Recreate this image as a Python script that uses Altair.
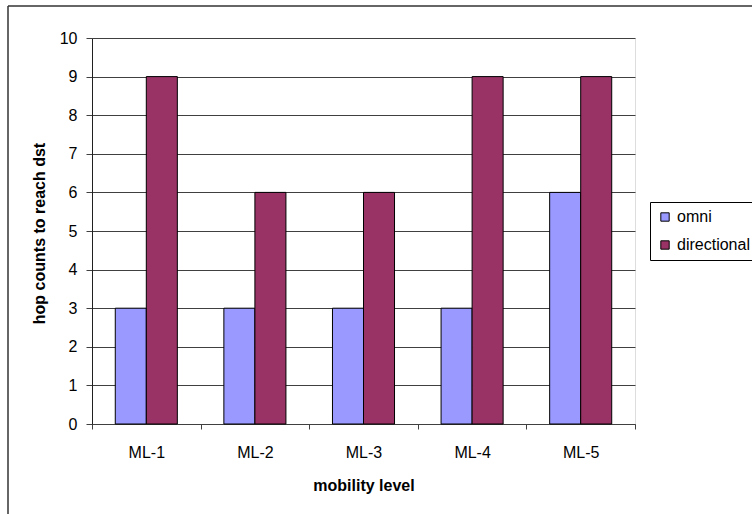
import altair as alt
import pandas as pd

# Hop counts per mobility level for each antenna type
levels = ["ML-1", "ML-2", "ML-3", "ML-4", "ML-5"]
omni = [3, 3, 3, 3, 6]
directional = [9, 6, 6, 9, 9]
series = ["omni", "directional"]
colors = ["#9999FF", "#993366"]

rows = []
for i, lvl in enumerate(levels):
    rows.append({"level": lvl, "antenna": "omni", "hops": omni[i]})
    rows.append({"level": lvl, "antenna": "directional", "hops": directional[i]})
df = pd.DataFrame(rows)

FONT = "Liberation Sans"
FS = 16
W, H = 543, 386

bars = alt.Chart(df).mark_bar(stroke="black", strokeWidth=1).encode(
    x=alt.X(
        "level:N",
        sort=levels,
        scale=alt.Scale(paddingInner=0, paddingOuter=0),
        axis=alt.Axis(
            title="mobility level",
            labelAngle=0,
            tickBand="extent",
            tickSize=5,
            tickColor="#404040",
            domainColor="#404040",
            labelFontSize=FS,
            labelPadding=15,
            titleFontSize=FS,
            titleFontWeight="bold",
            titleY=61,
            titleBaseline="middle",
        ),
    ),
    xOffset=alt.XOffset(
        "antenna:N",
        sort=series,
        scale=alt.Scale(paddingInner=0, paddingOuter=0.75),
    ),
    y=alt.Y(
        "hops:Q",
        scale=alt.Scale(domain=[0, 10], nice=False),
        axis=alt.Axis(
            title="hop counts to reach dst",
            values=list(range(0, 11)),
            tickSize=6,
            tickColor="#404040",
            domainColor="#202020",
            gridColor="#404040",
            labelFontSize=FS,
            labelPadding=9,
            titleFontSize=FS,
            titleFontWeight="bold",
            titleX=-53,
            titleY=H / 2 + 2,
            titleAngle=270,
            titleAlign="center",
            titleBaseline="middle",
        ),
    ),
    color=alt.Color(
        "antenna:N",
        sort=series,
        scale=alt.Scale(domain=series, range=colors),
        legend=alt.Legend(
            title=None,
            orient="none",
            legendX=558,
            legendY=164,
            symbolType="square",
            symbolSize=70,
            symbolStrokeColor="black",
            symbolStrokeWidth=1,
            labelFontSize=FS,
            rowPadding=12,
            padding=7,
            strokeColor="black",
            labelOffset=4,
        ),
    ),
)

# Outer frame around the whole figure (top and left edges)
frame = alt.Chart(alt.Data(values=[{}])).mark_rule(color="#333333", strokeWidth=1.5).encode(
    x=alt.value(-84), x2=alt.value(680), y=alt.value(-32)
)
frame_left = alt.Chart(alt.Data(values=[{}])).mark_rule(color="#333333", strokeWidth=1.5).encode(
    x=alt.value(-84), y=alt.value(-32), y2=alt.value(480)
)

chart = (
    alt.layer(bars, frame, frame_left)
    .properties(
        width=W,
        height=H,
        autosize=alt.AutoSizeParams(type="none"),
        padding={"left": 92, "top": 38, "right": 117, "bottom": 90},
        background="white",
    )
    .configure_view(stroke="#808080", strokeWidth=1)
    .configure(font=FONT)
    .configure_axis(labelColor="black", titleColor="black", gridWidth=1)
    .configure_legend(labelColor="black")
)

chart.save("out.html", embed_options={"renderer": "svg", "actions": False})
